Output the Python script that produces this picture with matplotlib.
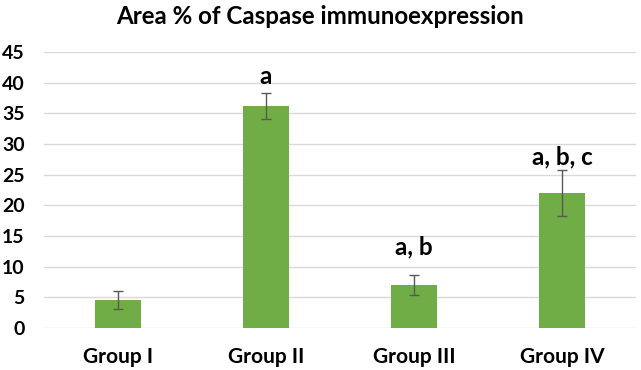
import matplotlib
matplotlib.use("Agg")
import matplotlib.pyplot as plt
import numpy as np

categories = ["Group I", "Group II", "Group III", "Group IV"]
values = [4.5, 36.2, 7.0, 22.0]
errors = [1.5, 2.1, 1.6, 3.8]
sig_labels = ["", "a", "a, b", "a, b, c"]
sig_label_y = [None, 39.9, 11.9, 26.6]
yticks = [0, 5, 10, 15, 20, 25, 30, 35, 40, 45]

plt.rcParams['font.family'] = ['Lato', 'DejaVu Sans']
plt.rcParams['font.weight'] = 'bold'

fig = plt.figure(figsize=(6.41, 3.70), dpi=100)
ax = fig.add_axes([44/641, 1 - 327.7/370, 592/641, (327.7 - 52.3)/370])

x = np.arange(len(categories))
ax.bar(x, values, width=0.31, color="#70AD47", zorder=3)
ax.errorbar(x, values, yerr=errors, fmt='none', ecolor="#595959",
            elinewidth=1.0, capsize=3.5, capthick=1.0, zorder=4)

for xi, lab, ly in zip(x, sig_labels, sig_label_y):
    if lab:
        ax.text(xi, ly, lab, ha='center', va='baseline',
                fontsize=17.5, fontweight='bold', color='black')

ax.set_xlim(-0.5, 3.5)
ax.set_ylim(0, 45)
ax.set_yticks(yticks)
ax.set_xticks(x)
ax.set_xticklabels(categories, fontsize=15, fontweight='bold')
ax.set_yticklabels([str(t) for t in yticks], fontsize=14, fontweight='bold')
ax.yaxis.grid(True, color="#D9D9D9", linewidth=1.0, zorder=0)
ax.set_axisbelow(True)
for s in ax.spines.values():
    s.set_visible(False)
ax.tick_params(axis='both', length=0)
ax.tick_params(axis='x', pad=14)
ax.tick_params(axis='y', pad=14)

fig.text(0.5, 1 - 16/370, "Area % of Caspase immunoexpression", ha='center', va='center',
         fontsize=17.4, fontweight='bold')

fig.savefig("out.png", dpi=100)
